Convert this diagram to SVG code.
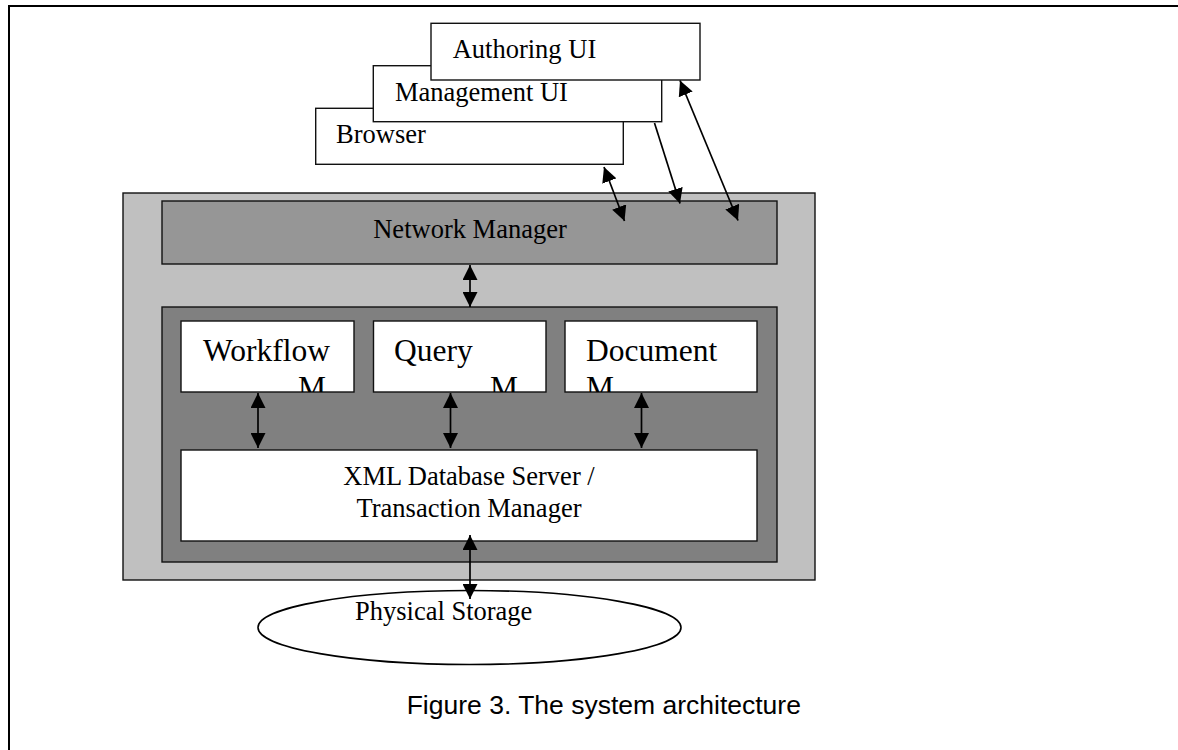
<svg xmlns="http://www.w3.org/2000/svg" width="1178" height="750" viewBox="0 0 1178 750">
  <style>
    .box { stroke: #111; stroke-width: 1.4; }
    .white { fill: #fff; }
    .serif { font-family: "Liberation Serif", "Times New Roman", serif; fill: #000; }
    .t26 { font-size: 26.5px; }
    .t31 { font-size: 31.5px; }
    .cap { font-family: "Liberation Sans", Arial, sans-serif; font-size: 26.5px; fill: #000; }
    .link { stroke: #000; stroke-width: 1.7; fill: none; }
  </style>
  <defs>
    <marker id="head" markerUnits="userSpaceOnUse" markerWidth="15" markerHeight="15" refX="15" refY="7.5" orient="auto-start-reverse">
      <path d="M0,0 L15,7.5 L0,15 Z" fill="#000"/>
    </marker>
    <clipPath id="clipWorkflow"><rect x="181" y="321" width="173" height="71"/></clipPath>
    <clipPath id="clipQuery"><rect x="373.5" y="321" width="172.5" height="71"/></clipPath>
    <clipPath id="clipDocument"><rect x="565" y="321" width="192" height="71"/></clipPath>
  </defs>

  <rect width="1178" height="750" fill="#fff"/>

  <!-- page frame, running off the right and bottom edges -->
  <path d="M9,750 L9,6 L1178,6" fill="none" stroke="#000" stroke-width="2"/>

  <!-- client applications, stacked -->
  <g id="browser">
    <rect class="box white" x="315.7" y="108.3" width="307.6" height="56"/>
    <text class="serif t26" x="336" y="143.3">Browser</text>
  </g>
  <g id="management-ui">
    <rect class="box white" x="373.3" y="65.7" width="288.4" height="56"/>
    <text class="serif t26" x="395" y="100.7">Management UI</text>
  </g>
  <g id="authoring-ui">
    <rect class="box white" x="431" y="23.3" width="269" height="56.7"/>
    <text class="serif t26" x="452.7" y="58.3">Authoring UI</text>
  </g>

  <!-- server -->
  <g id="server">
    <rect class="box" x="123" y="193" width="692" height="387" fill="#c0c0c0"/>
  </g>
  <g id="network-manager">
    <rect class="box" x="162" y="201" width="615" height="63" fill="#969696"/>
    <text class="serif t26" x="470" y="238" text-anchor="middle">Network Manager</text>
  </g>
  <g id="core">
    <rect class="box" x="162" y="307" width="615" height="255" fill="#808080"/>
  </g>
  <g id="workflow-manager">
    <rect class="box white" x="181" y="321" width="173" height="71"/>
    <text class="serif t31" x="203" y="361">Workflow</text>
    <text class="serif t31" x="298" y="398" clip-path="url(#clipWorkflow)">M</text>
  </g>
  <g id="query-manager">
    <rect class="box white" x="373.5" y="321" width="172.5" height="71"/>
    <text class="serif t31" x="394" y="361">Query</text>
    <text class="serif t31" x="490" y="398" clip-path="url(#clipQuery)">M</text>
  </g>
  <g id="document-manager">
    <rect class="box white" x="565" y="321" width="192" height="71"/>
    <text class="serif t31" x="586" y="361">Document</text>
    <text class="serif t31" x="586" y="398" clip-path="url(#clipDocument)">M</text>
  </g>
  <g id="xml-database">
    <rect class="box white" x="181" y="450" width="576" height="91"/>
    <text class="serif t26" x="469" y="485" text-anchor="middle">XML Database Server /</text>
    <text class="serif t26" x="469" y="517" text-anchor="middle">Transaction Manager</text>
  </g>

  <g id="physical-storage">
    <ellipse cx="469.5" cy="627.5" rx="211.5" ry="37" fill="#fff" stroke="#000" stroke-width="1.6"/>
    <text class="serif t26" x="355" y="620">Physical Storage</text>
  </g>

  <!-- connectors -->
  <g id="connectors">
    <line class="link" x1="604" y1="167" x2="624.5" y2="221" marker-start="url(#head)" marker-end="url(#head)"/>
    <line class="link" x1="654.5" y1="123" x2="680" y2="203.5" marker-end="url(#head)"/>
    <line class="link" x1="680" y1="80.5" x2="738" y2="220.5" marker-start="url(#head)" marker-end="url(#head)"/>
    <line class="link" x1="470" y1="265" x2="470" y2="307" marker-start="url(#head)" marker-end="url(#head)"/>
    <line class="link" x1="258" y1="393" x2="258" y2="448" marker-start="url(#head)" marker-end="url(#head)"/>
    <line class="link" x1="450.5" y1="393" x2="450.5" y2="448" marker-start="url(#head)" marker-end="url(#head)"/>
    <line class="link" x1="641.5" y1="393" x2="641.5" y2="448" marker-start="url(#head)" marker-end="url(#head)"/>
    <line class="link" x1="470" y1="535" x2="470" y2="599" marker-start="url(#head)" marker-end="url(#head)"/>
  </g>

  <text class="cap" x="406.7" y="714">Figure 3. The system architecture</text>
</svg>
